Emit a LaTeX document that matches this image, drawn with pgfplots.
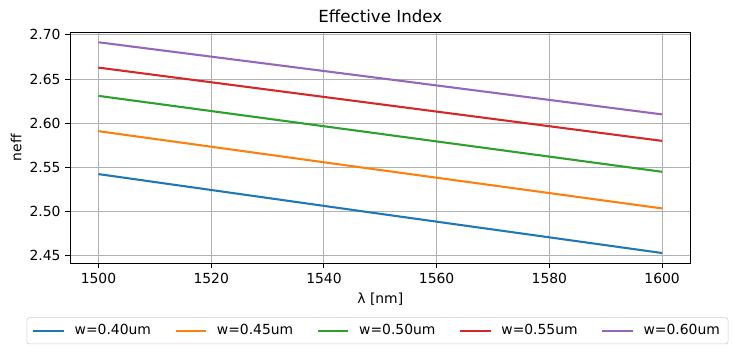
\documentclass[border=0pt]{standalone}
\usepackage{pgfplots}
\pgfplotsset{compat=1.18}
\usepackage{fontspec}
\setmainfont{DejaVu Sans}
\definecolor{tabblue}{HTML}{1F77B4}
\definecolor{taborange}{HTML}{FF7F0E}
\definecolor{tabgreen}{HTML}{2CA02C}
\definecolor{tabred}{HTML}{D62728}
\definecolor{tabpurple}{HTML}{9467BD}
\begin{document}
\begin{tikzpicture}[x=0.72pt,y=0.72pt]
\begin{axis}[
  name=ax,
  scale only axis,
  width=446.4pt, height=166.3pt,
  xmin=1495, xmax=1605,
  ymin=2.4414, ymax=2.703,
  xtick={1500,1520,1540,1560,1580,1600},
  ytick={2.45,2.50,2.55,2.60,2.65,2.70},
  yticklabel style={/pgf/number format/.cd,fixed,fixed zerofill,precision=2},
  xticklabel style={/pgf/number format/1000 sep={}},
  /pgf/number format/assume math mode=true,
  tick label style={font=\fontsize{10}{12}\selectfont},
  label style={font=\fontsize{10}{12}\selectfont},
  grid=major,
  major grid style={color=black!31, line width=0.8pt},
  axis line style={line width=0.8pt},
  tick style={line width=0.8pt, color=black},
  tick align=outside,
  major tick length=3.5pt,
  xtick pos=bottom, ytick pos=left,
  title={Effective Index},
  title style={font=\fontsize{12}{14}\selectfont, yshift=-3pt},
  xlabel={λ [nm]},
  ylabel={neff},
  ylabel style={yshift=-1pt},
  legend columns=5,
  legend style={at={(0.4955,-0.292)}, anchor=center,
    font=\fontsize{10}{12}\selectfont,
    draw=black!20, rounded corners=2pt,
    /tikz/every odd column/.append style={column sep=5pt},
    /tikz/every even column/.append style={column sep=15pt},
    inner xsep=4pt, inner ysep=3pt},
  legend image post style={line width=1.5pt},
  legend image code/.code={\draw[#1] (0pt,0pt) -- (22pt,0pt);},
]
\addplot[tabblue, line width=1.5pt] coordinates {(1500,2.5424) (1550,2.4974) (1600,2.4530)};
\addlegendentry{w=0.40um}
\addplot[taborange, line width=1.5pt] coordinates {(1500,2.5910) (1550,2.5470) (1600,2.5035)};
\addlegendentry{w=0.45um}
\addplot[tabgreen, line width=1.5pt] coordinates {(1500,2.6310) (1550,2.5880) (1600,2.5450)};
\addlegendentry{w=0.50um}
\addplot[tabred, line width=1.5pt] coordinates {(1500,2.6630) (1550,2.6215) (1600,2.5800)};
\addlegendentry{w=0.55um}
\addplot[tabpurple, line width=1.5pt] coordinates {(1500,2.6917) (1550,2.6510) (1600,2.6100)};
\addlegendentry{w=0.60um}
\end{axis}
\pgfresetboundingbox
\path[use as bounding box] ([xshift=-70.3*0.72pt,yshift=-89.7*0.72pt]ax.south west) rectangle ([xshift=42.7*0.72pt,yshift=32.3*0.72pt]ax.north east);
\end{tikzpicture}
\end{document}
